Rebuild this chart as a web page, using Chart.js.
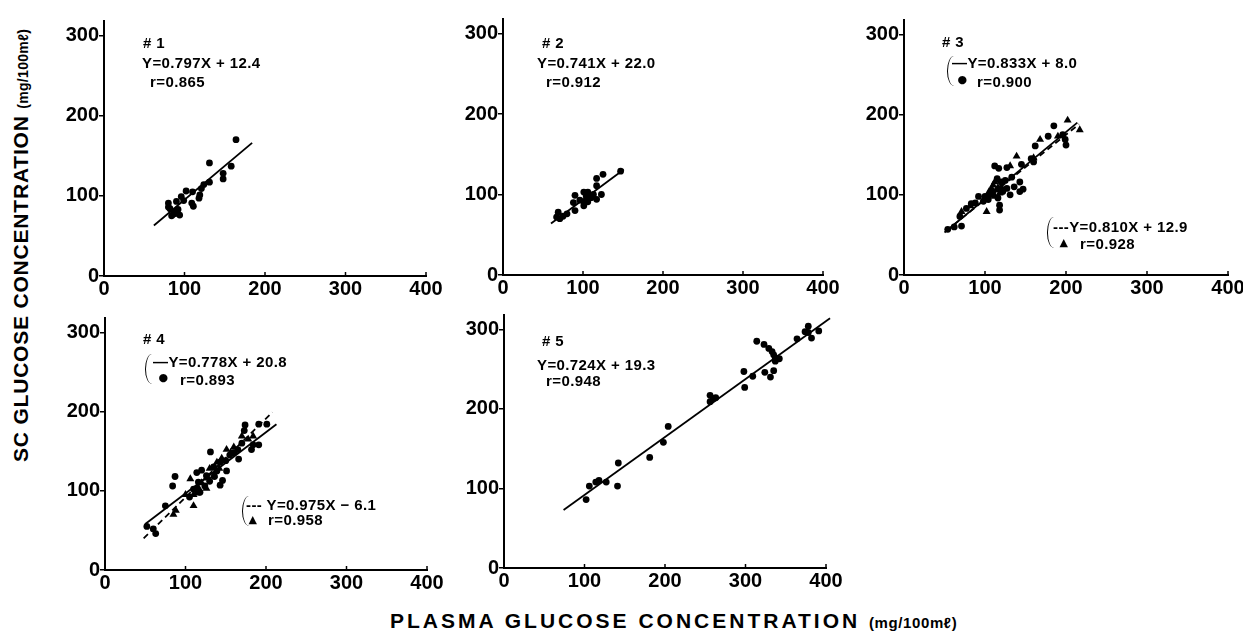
<!DOCTYPE html>
<html><head><meta charset="utf-8">
<script src="https://cdn.jsdelivr.net/npm/chart.js@4.4.0/dist/chart.umd.min.js"></script>
<style>
html,body{margin:0;padding:0;background:#fff;}
body{width:1243px;height:632px;position:relative;overflow:hidden;font-family:"Liberation Sans",Arial,sans-serif;color:#000;}
canvas{position:absolute;}
.t{position:absolute;white-space:nowrap;font-weight:bold;font-size:15px;line-height:15px;letter-spacing:0.4px;}
.br{position:absolute;width:6px;border-left:1.6px solid #000;border-radius:7px 0 0 7px / 15px 0 0 15px;}
.sym{position:absolute;font-family:"DejaVu Sans",sans-serif;line-height:10px;}
</style></head><body>
<canvas id="c1"></canvas><canvas id="c2"></canvas><canvas id="c3"></canvas><canvas id="c4"></canvas><canvas id="c5"></canvas>
<div id="notes"></div>
<script>
// ---- data ----
const xTicks = [0, 100, 200, 300, 400];
const yTicks = [0, 100, 200, 300];
const xMax = 400, yMax = 318;

const p1Circles = [[164,170],[131,141],[158,137],[148,128],[148,121],[131,117],[124,114],[121,109],[119,101],[118,97],[110,105],[102,106],[109,91],[111,87],[96,99],[99,94],[90,93],[80,91],[82,84],[86,77],[94,76],[88,80],[84,75],[92,83],[90,78],[80,86]];
const p1Line = [[62,63],[184,166]];

const p2Circles = [[147,129],[125,125],[117,120],[117,111],[113,100],[123,100],[117,94],[106,103],[101,103],[101,91],[101,86],[110,96],[90,99],[88,90],[90,80],[75,73],[69,78],[71,70],[67,72],[96,93],[106,91],[104,98],[80,76]];
const p2Line = [[60,64],[151,131]];

const p3Circles = [[185,186],[200,162],[199,169],[196,175],[162,161],[157,145],[160,141],[145,138],[127,134],[112,136],[117,133],[133,122],[143,116],[143,104],[147,107],[131,100],[118,81],[118,87],[98,92],[92,98],[83,89],[77,83],[69,73],[71,61],[54,57],[106,100],[127,108],[120,116],[136,110],[115,120],[125,118],[110,104],[100,98],[88,90],[62,60],[178,173],[122,104],[116,96],[104,94]];
const p3Triangles = [[202,193],[217,181],[168,169],[139,148],[131,136],[110,112],[114,106],[118,102],[120,110],[108,108],[102,79],[71,79],[190,173],[160,146],[82,86],[112,98],[105,104],[112,116],[116,109],[108,100],[114,118]];
const p3SolidLine = [[50,53],[214,190]];
const p3DashLine = [[52,55],[216,188]];

const p4Circles = [[201,184],[191,184],[174,183],[173,176],[184,158],[191,158],[182,152],[166,140],[131,149],[87,118],[84,106],[75,81],[52,55],[63,46],[60,52],[143,107],[139,125],[151,125],[114,123],[160,148],[143,136],[126,119],[116,111],[120,126],[135,130],[155,145],[110,102],[105,92],[170,160],[146,113],[130,112],[124,106],[136,118],[150,138],[165,152],[118,98]];
const p4Triangles = [[110,81],[85,70],[88,75],[170,169],[151,152],[106,115],[114,97],[110,95],[135,119],[139,136],[126,103],[184,169],[120,110],[145,141],[160,155],[100,95],[130,128],[178,165],[128,116],[142,128],[156,148],[116,104]];
const p4SolidLine = [[50,58],[213,184]];
const p4DashLine = [[48,40],[208,199]];

const p5Circles = [[102,86],[106,103],[114,108],[118,110],[127,108],[141,103],[142,132],[181,139],[198,158],[204,178],[256,217],[260,213],[256,209],[263,214],[298,247],[299,227],[309,241],[314,285],[323,281],[329,276],[333,272],[335,268],[337,264],[342,263],[324,246],[331,240],[335,248],[337,260],[364,288],[378,304],[374,297],[382,289],[391,298],[378,296]];
const p5Line = [[74,73],[405,314]];

// ---- helpers ----
const pts = a => a.map(([x,y]) => ({x, y}));
const circleDs = a => ({data: pts(a), pointStyle:'circle', pointRadius:3.4, backgroundColor:'#000', borderColor:'#000', borderWidth:0, showLine:false});
const triDs = a => ({data: pts(a), pointStyle:'triangle', pointRadius:4.6, backgroundColor:'#000', borderColor:'#000', borderWidth:0, showLine:false});
const lineDs = (a, dash) => ({data: pts(a), showLine:true, pointRadius:0, borderColor:'#000', borderWidth:1.8, borderDash: dash ? [6,4] : [], clip:false, order:-1});

const inwardTicks = {
  id:'inwardTicks',
  afterDraw(chart){
    const xs = chart.scales.x, ys = chart.scales.y, ctx = chart.ctx;
    const yb = ys.getPixelForValue(0);
    ctx.save(); ctx.strokeStyle = '#000'; ctx.lineWidth = 1.5;
    xs.ticks.forEach(t => {
      if (t.value === 0) return;
      const px = xs.getPixelForValue(t.value);
      ctx.beginPath(); ctx.moveTo(px, yb); ctx.lineTo(px, yb - 4); ctx.stroke();
    });
    ctx.restore();
  }
};

const WY = 60, HX = 28, PT = 6, PR = 24;
const tickFont = {family:'"Liberation Sans", Arial, sans-serif', size:20, weight:'bold'};

function panel(id, L, R, Y0, Y3, datasets){
  const perUnit = (Y0 - Y3) / 300;
  const top = Y0 - yMax * perUnit;
  const c = document.getElementById(id);
  const w = WY + (R - L) + PR, h = PT + (Y0 - top) + HX;
  c.width = Math.round(w); c.height = Math.round(h);
  c.style.width = c.width + 'px'; c.style.height = c.height + 'px';
  c.style.left = (L - WY) + 'px'; c.style.top = Math.round(top - PT) + 'px';
  new Chart(c, {
    type:'scatter',
    data:{datasets},
    plugins:[inwardTicks],
    options:{
      responsive:false, animation:false, devicePixelRatio:1,
      layout:{padding:{top:PT, right:PR, left:0, bottom:0}},
      plugins:{legend:{display:false}, tooltip:{enabled:false}},
      scales:{
        x:{type:'linear', min:0, max:xMax,
           afterBuildTicks: s => { s.ticks = xTicks.map(v => ({value:v})); },
           afterFit: s => { s.height = HX; },
           border:{display:true, color:'#000', width:2},
           grid:{display:true, drawOnChartArea:false, drawTicks:false, color:'rgba(0,0,0,0)'},
           ticks:{color:'#000', font:tickFont, padding:1, maxRotation:0, autoSkip:false}},
        y:{type:'linear', min:0, max:yMax,
           afterBuildTicks: s => { s.ticks = yTicks.map(v => ({value:v})); },
           afterFit: s => { s.width = WY; },
           border:{display:true, color:'#000', width:2},
           grid:{display:true, drawOnChartArea:false, drawTicks:true, tickLength:5, color:'#000', lineWidth:1.5},
           ticks:{color:'#000', font:tickFont, padding:0, autoSkip:false}}
      }
    }
  });
}

panel('c1', 104, 426, 276, 30, [lineDs(p1Line), circleDs(p1Circles)]);
panel('c2', 503, 823, 275, 28, [lineDs(p2Line), circleDs(p2Circles)]);
panel('c3', 904, 1228, 275, 29, [lineDs(p3SolidLine), lineDs(p3DashLine, true), circleDs(p3Circles), triDs(p3Triangles)]);
panel('c4', 105, 427, 570, 327, [lineDs(p4SolidLine), lineDs(p4DashLine, true), circleDs(p4Circles), triDs(p4Triangles)]);
panel('c5', 504, 826, 568, 324, [lineDs(p5Line), circleDs(p5Circles)]);

// ---- annotation text ----
const notes = document.getElementById('notes');
function txt(s, x, base, size, extra){
  const d = document.createElement('div');
  d.className = 't';
  size = size || 15;
  d.style.fontSize = size + 'px'; d.style.lineHeight = size + 'px';
  d.style.left = x + 'px'; d.style.top = (base - 0.8465 * size) + 'px';
  if (extra) Object.assign(d.style, extra);
  d.textContent = s;
  notes.appendChild(d);
}
function br(x, y1, y2){
  const d = document.createElement('div');
  d.className = 'br';
  d.style.left = x + 'px'; d.style.top = y1 + 'px'; d.style.height = (y2 - y1) + 'px';
  notes.appendChild(d);
}
function sym(s, cx, cy, size){
  const d = document.createElement('div');
  d.className = 'sym';
  d.style.fontSize = size + 'px';
  d.style.left = (cx - size * 0.4) + 'px'; d.style.top = (cy - 5) + 'px';
  d.textContent = s;
  notes.appendChild(d);
}
txt('# 1', 143, 48); txt('Y=0.797X + 12.4', 142, 68); txt('r=0.865', 150, 87);
txt('# 2', 542, 48); txt('Y=0.741X + 22.0', 537, 68); txt('r=0.912', 546, 87);
txt('# 3', 942, 47); br(947, 56, 86); txt('\u2014Y=0.833X + 8.0', 952, 68); sym('\u25CF', 962, 80, 11); txt('r=0.900', 977, 87);
br(1047, 217, 248); txt('---Y=0.810X + 12.9', 1053, 232); sym('\u25B2', 1064, 243, 11); txt('r=0.928', 1080, 249);
txt('# 4', 143, 344); br(145, 354, 384); txt('\u2014Y=0.778X + 20.8', 153, 367); sym('\u25CF', 163, 378, 11); txt('r=0.893', 180, 385);
br(242, 496, 526); txt('--- Y=0.975X \u2212 6.1', 246, 510); sym('\u25B2', 253, 520, 11); txt('r=0.958', 268, 525);
txt('# 5', 542, 346); txt('Y=0.724X + 19.3', 537, 370); txt('r=0.948', 546, 386);

// axis titles
const xt = document.createElement('div');
xt.className = 't';
Object.assign(xt.style, {fontSize:'21px', lineHeight:'21px', letterSpacing:'3px', left:'390px', top:(628 - 0.8465*21) + 'px'});
xt.innerHTML = 'PLASMA GLUCOSE CONCENTRATION <span style="font-size:15px;letter-spacing:0.6px">(mg/100m\u2113)</span>';
notes.appendChild(xt);
const yt = document.createElement('div');
yt.className = 't';
Object.assign(yt.style, {fontSize:'21px', lineHeight:'21px', letterSpacing:'0.8px', left:'10px', top:'462px', transformOrigin:'0 0', transform:'rotate(-90deg)'});
yt.innerHTML = 'SC GLUCOSE CONCENTRATION <span style="font-size:14px;letter-spacing:0.3px">(mg/100m\u2113)</span>';
notes.appendChild(yt);
</script>
</body></html>
